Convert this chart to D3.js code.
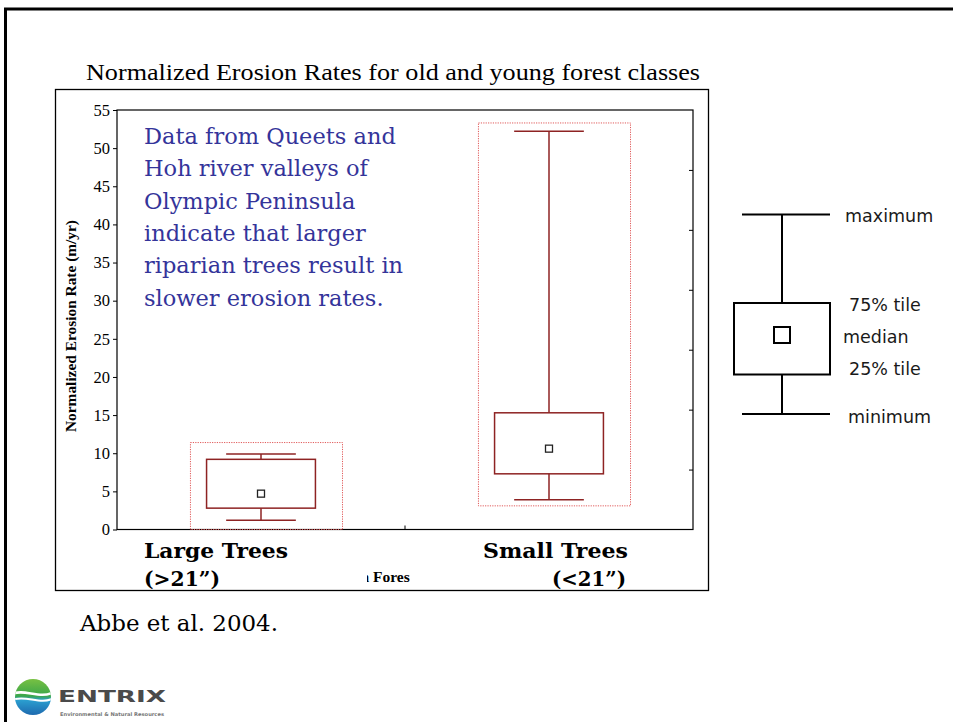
<!DOCTYPE html>
<html>
<head>
<meta charset="utf-8">
<script src="https://cdn.jsdelivr.net/npm/d3@7"></script>
<style>
html,body{margin:0;padding:0;background:#fff;}
svg{display:block;}
</style>
</head>
<body>
<svg id="chart" width="953" height="722"></svg>
<script>
// ---- data ----
const categories = ["Large Trees", "Small Trees"];
const categoryLine1 = ["Large Trees", "Small Trees"];
const categoryLine2 = ["(>21\u201d)", "(<21\u201d)"];
const minima  = [1.2, 3.9];
const q1      = [2.8, 7.3];
const medians = [4.7, 10.6];
const q3      = [9.2, 15.3];
const maxima  = [9.9, 52.2];
const rangeLow  = [0, 3.1];
const rangeHigh = [11.4, 53.3];
const yTicks = [0, 5, 10, 15, 20, 25, 30, 35, 40, 45, 50, 55];
const rightTicks = [1, 2, 3, 4, 5, 6];
const titleText = "Normalized Erosion Rates for old and young forest classes";
const yTitle = "Normalized Erosion Rate (m/yr)";
const noteLines = ["Data from Queets and", "Hoh river valleys of", "Olympic Peninsula",
  "indicate that larger", "riparian trees result in", "slower erosion rates."];
const legendLabels = ["maximum", "75% tile", "median", "25% tile", "minimum"];
const citation = "Abbe et al. 2004.";

// ---- layout ----
const svg = d3.select("#chart");
const P = {left: 117, right: 693, top: 110, bottom: 529.5};
const x = d3.scaleBand().domain(categories).range([P.left, P.right]).padding(0);
const y = d3.scaleLinear().domain([0, 55]).range([P.bottom, P.top]);
const yR = d3.scaleLinear().domain([0, 7]).range([P.bottom, P.top]);
const bw = x.bandwidth();
const cx = c => x(c) + bw / 2;

// slide frame
svg.append("path").attr("d", "M5.5,722 V9 H953").attr("fill", "none")
  .attr("stroke", "#000").attr("stroke-width", 3);

// title
svg.append("text").attr("x", 86).attr("y", 80).text(titleText)
  .attr("font-family", "Liberation Serif, serif").attr("font-size", 24)
  .attr("textLength", 614).attr("lengthAdjust", "spacingAndGlyphs").attr("fill", "#000");

// outer chart box
svg.append("rect").attr("x", 55.5).attr("y", 89.5).attr("width", 653).attr("height", 501)
  .attr("fill", "none").attr("stroke", "#000").attr("stroke-width", 1.3);

// plot frame
svg.append("rect").attr("x", P.left).attr("y", P.top).attr("width", P.right - P.left)
  .attr("height", P.bottom - P.top).attr("fill", "none").attr("stroke", "#000").attr("stroke-width", 1.2);

// left axis
const gy = svg.append("g").attr("transform", `translate(${P.left},0)`)
  .call(d3.axisLeft(y).tickValues(yTicks).tickSize(4).tickPadding(3));
gy.attr("font-size", null).attr("font-family", null);
gy.select(".domain").remove();
gy.selectAll("text").style("font-family", "'Liberation Serif', serif").style("font-size", "16.5px").attr("fill", "#000");
gy.selectAll("line").attr("stroke", "#000");

// right axis ticks (inner)
const gr = svg.append("g").attr("transform", `translate(${P.right},0)`)
  .call(d3.axisLeft(yR).tickValues(rightTicks).tickSize(4).tickFormat(""));
gr.select(".domain").remove();
gr.selectAll("line").attr("stroke", "#000");

// bottom axis tick at category boundary
svg.append("line").attr("x1", x(categories[1])).attr("x2", x(categories[1]))
  .attr("y1", P.bottom).attr("y2", P.bottom - 4).attr("stroke", "#000");

// y title
svg.append("text").attr("transform", "translate(76,326) rotate(-90)")
  .attr("text-anchor", "middle").text(yTitle)
  .attr("font-family", "Liberation Serif, serif").attr("font-weight", "bold").attr("font-size", 14)
  .attr("textLength", 212).attr("lengthAdjust", "spacingAndGlyphs");

// boxes
const boxColor = "#8e2323";
const g = svg.append("g");
categories.forEach((c, i) => {
  const m = cx(c);
  g.append("rect").attr("x", m - 0.245 * bw).attr("width", 0.528 * bw)
    .attr("y", y(rangeHigh[i])).attr("height", y(rangeLow[i]) - y(rangeHigh[i]))
    .attr("fill", "none").attr("stroke", "#e05a5a").attr("stroke-width", 1)
    .attr("stroke-dasharray", "1.2,1.2");
  g.append("line").attr("x1", m).attr("x2", m).attr("y1", y(maxima[i])).attr("y2", y(q3[i]))
    .attr("stroke", boxColor).attr("stroke-width", 1.5);
  g.append("line").attr("x1", m).attr("x2", m).attr("y1", y(q1[i])).attr("y2", y(minima[i]))
    .attr("stroke", boxColor).attr("stroke-width", 1.5);
  [maxima[i], minima[i]].forEach(v => {
    g.append("line").attr("x1", m - 0.121 * bw).attr("x2", m + 0.121 * bw)
      .attr("y1", y(v)).attr("y2", y(v)).attr("stroke", boxColor).attr("stroke-width", 1.5);
  });
  g.append("rect").attr("x", m - 0.189 * bw).attr("width", 0.378 * bw)
    .attr("y", y(q3[i])).attr("height", y(q1[i]) - y(q3[i]))
    .attr("fill", "none").attr("stroke", boxColor).attr("stroke-width", 1.5);
  g.append("rect").attr("x", m - 3.5).attr("y", y(medians[i]) - 3.5).attr("width", 7).attr("height", 7)
    .attr("fill", "#fff").attr("stroke", "#222").attr("stroke-width", 1.3);
});

// annotation
const note = svg.append("text").attr("font-family", "DejaVu Serif, serif").attr("font-size", 22.5)
  .attr("fill", "#34349a");
noteLines.forEach((t, i) => {
  note.append("tspan").attr("x", 144).attr("y", 144 + i * 32.3).text(t);
});

// partially hidden x-axis title
svg.append("clipPath").attr("id", "xtclip").append("rect")
  .attr("x", 367).attr("y", 560).attr("width", 43).attr("height", 30);
svg.append("text").attr("x", 360.5).attr("y", 582).text("n Forest")
  .attr("clip-path", "url(#xtclip)")
  .attr("font-family", "Liberation Serif, serif").attr("font-weight", "bold").attr("font-size", 15.5);

// category labels
const labFont = {family: "DejaVu Serif, serif", size: 20.5};
svg.append("text").attr("x", 144).attr("y", 558).text(categoryLine1[0])
  .attr("font-family", labFont.family).attr("font-weight", "bold").attr("font-size", labFont.size)
  .attr("textLength", 144).attr("lengthAdjust", "spacingAndGlyphs");
svg.append("text").attr("x", 144).attr("y", 586).text(categoryLine2[0])
  .attr("font-family", labFont.family).attr("font-weight", "bold").attr("font-size", labFont.size)
  .attr("textLength", 76).attr("lengthAdjust", "spacingAndGlyphs");
svg.append("text").attr("x", 483).attr("y", 558).text(categoryLine1[1])
  .attr("font-family", labFont.family).attr("font-weight", "bold").attr("font-size", labFont.size)
  .attr("textLength", 145).attr("lengthAdjust", "spacingAndGlyphs");
svg.append("text").attr("x", 552).attr("y", 586).text(categoryLine2[1])
  .attr("font-family", labFont.family).attr("font-weight", "bold").attr("font-size", labFont.size)
  .attr("textLength", 74).attr("lengthAdjust", "spacingAndGlyphs");

// legend
const L = svg.append("g").attr("stroke", "#000").attr("stroke-width", 2).attr("fill", "none");
L.append("line").attr("x1", 742).attr("x2", 830).attr("y1", 214.5).attr("y2", 214.5);
L.append("line").attr("x1", 782).attr("x2", 782).attr("y1", 214.5).attr("y2", 303);
L.append("rect").attr("x", 734).attr("y", 303).attr("width", 96).attr("height", 71.5);
L.append("line").attr("x1", 782).attr("x2", 782).attr("y1", 374.5).attr("y2", 414);
L.append("line").attr("x1", 742).attr("x2", 830).attr("y1", 414).attr("y2", 414);
L.append("rect").attr("x", 774).attr("y", 327).attr("width", 16).attr("height", 16);
const legPos = [[845, 216], [849, 305], [843, 337], [849, 369], [848, 417]];
legendLabels.forEach((t, i) => {
  svg.append("text").attr("x", legPos[i][0]).attr("y", legPos[i][1]).attr("dy", "0.35em").text(t)
    .attr("font-family", "DejaVu Sans, sans-serif").attr("font-size", 17.5).attr("fill", "#1a1a1a");
});

// citation
svg.append("text").attr("x", 80).attr("y", 631).text(citation)
  .attr("font-family", "DejaVu Serif, serif").attr("font-size", 21.5)
  .attr("textLength", 198).attr("lengthAdjust", "spacingAndGlyphs");

// logo
const defs = svg.append("defs");
defs.append("clipPath").attr("id", "logoclip").append("circle").attr("cx", 33).attr("cy", 697).attr("r", 18);
const grad = defs.append("linearGradient").attr("id", "lg").attr("x1", 0).attr("y1", 0).attr("x2", 0).attr("y2", 1);
grad.append("stop").attr("offset", "0%").attr("stop-color", "#7cc242");
grad.append("stop").attr("offset", "45%").attr("stop-color", "#3aa64a");
grad.append("stop").attr("offset", "55%").attr("stop-color", "#2b9fd0");
grad.append("stop").attr("offset", "100%").attr("stop-color", "#1b5fa8");
const logo = svg.append("g").attr("clip-path", "url(#logoclip)");
logo.append("rect").attr("x", 14).attr("y", 678).attr("width", 40).attr("height", 40).attr("fill", "url(#lg)");
logo.append("path").attr("d", "M12,694 C24,688 40,700 54,692").attr("stroke", "#fff").attr("stroke-width", 2.5).attr("fill", "none");
logo.append("path").attr("d", "M12,700 C26,694 40,706 54,698").attr("stroke", "#fff").attr("stroke-width", 2).attr("fill", "none");
svg.append("text").attr("x", 58).attr("y", 702).text("ENTRIX")
  .attr("font-family", "DejaVu Sans, sans-serif").attr("font-weight", "bold").attr("font-size", 16)
  .attr("textLength", 108).attr("lengthAdjust", "spacingAndGlyphs").attr("fill", "#4a4a4a");
svg.append("text").attr("x", 60).attr("y", 716).text("Environmental & Natural Resources")
  .attr("font-family", "DejaVu Sans, sans-serif").attr("font-weight", "bold").attr("font-size", 5)
  .attr("textLength", 104).attr("lengthAdjust", "spacingAndGlyphs").attr("fill", "#777");
</script>
</body>
</html>
